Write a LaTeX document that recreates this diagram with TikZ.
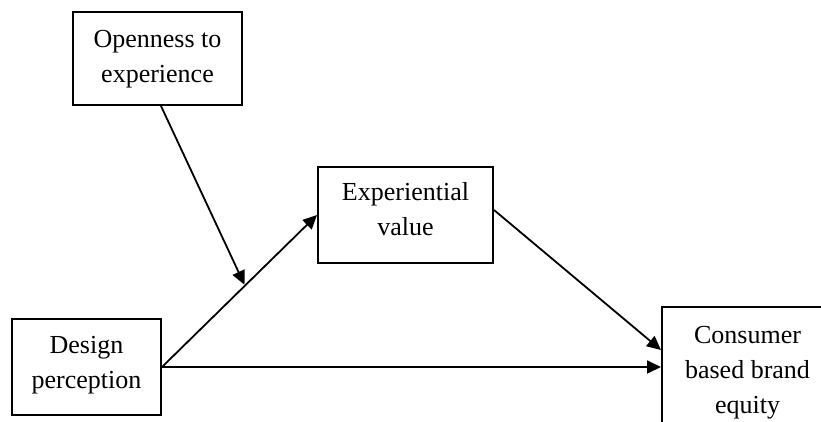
\documentclass[tikz,border=0pt]{standalone}
\usepackage{fontspec}
\setmainfont{Liberation Serif}
\usetikzlibrary{arrows.meta,calc}
\tikzset{
  boxnode/.style={draw=black, line width=2pt, fill=white, rectangle, inner sep=0pt},
  txt/.style={font=\fontsize{26}{35}\selectfont, align=center, inner sep=0pt},
  conn/.style={line width=1.8pt, -{Triangle[length=14pt,width=13pt]}}
}
\newcommand{\sst}{\strut}
\begin{document}
\begin{tikzpicture}[x=1pt,y=-1pt]
\useasboundingbox (0,0) rectangle (821,421);
\begin{scope}
\clip (0,0) rectangle (821,421);
% boxes
\node[boxnode, minimum width=169pt, minimum height=93pt] (op) at (157.5,58.5) {};
\node[boxnode, minimum width=175pt, minimum height=96pt] (ev) at (405.5,215) {};
\node[boxnode, minimum width=149pt, minimum height=96pt] (dp) at (86.5,367) {};
\node[boxnode, minimum width=171pt, minimum height=120pt] (cb) at (747.5,367) {};
% texts
\node[txt] (opt) at (157.5,58) {\sst Openness to\\\sst experience};
\node[txt] (evt) at (405.5,210.5) {\sst Experiential\\\sst value};
\node[txt] (dpt) at (86.5,363.5) {\sst Design\\\sst perception};
\node[txt] (cbt) at (747.5,371) {\sst Consumer\\\sst based brand\\\sst equity};
% connectors
\coordinate (opstart) at ($(op.south)+(3.5,0)$);
\coordinate (mod) at ($(dp.east)!0.535!(ev.west)$);
\coordinate (evstart) at ($(ev.east)+(0,-5)$);
\coordinate (cbin) at ($(cb.west)+(0,-17)$);
\draw[conn] (dp.east) -- (ev.west);
\draw[conn, shorten >=1pt] (opstart) -- (mod);
\draw[conn] (evstart) -- (cbin);
\draw[conn] (dp.east) -- (dp.east -| cb.west);
\end{scope}
\end{tikzpicture}
\end{document}
